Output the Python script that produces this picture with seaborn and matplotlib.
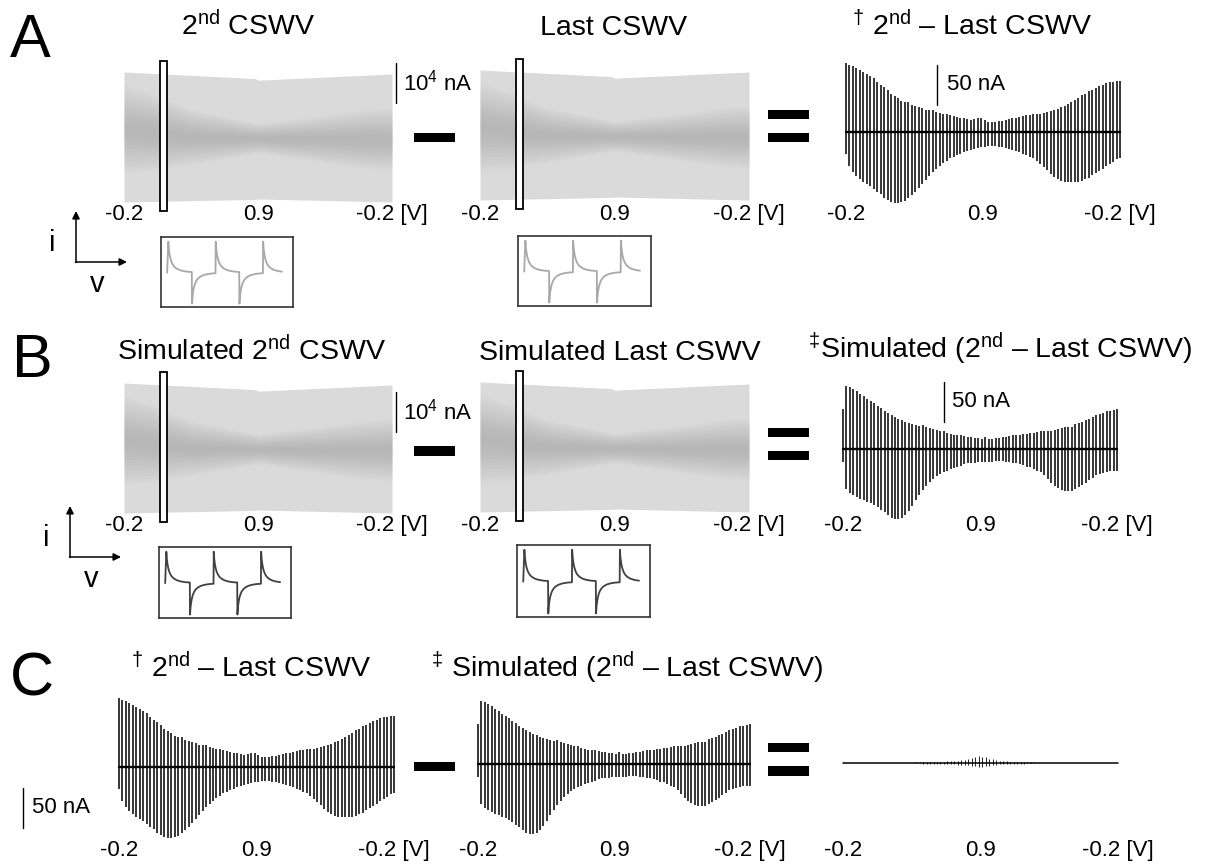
import numpy as np
import seaborn as sns
import matplotlib.pyplot as plt
from matplotlib.patches import Rectangle, FancyArrowPatch

# --- data -------------------------------------------------------------
TICK_LABELS = ['-0.2', '0.9', '-0.2 [V]']

# envelope of the raw CSWV traces (units of 1e4 nA, sweep fraction 0..1)
CSWV_T = [0.0, 0.49, 0.5, 1.0]
CSWV_TOP = [1.625, 1.46, 1.42, 1.575]
CSWV_BOT = [-1.625, -1.56, -1.55, -1.625]
BAND_T = [0.0, 0.1, 0.25, 0.5, 0.75, 0.9, 1.0]
BAND_MID = [0.2, 0.12, 0.0, -0.03, -0.05, -0.05, -0.05]
BAND_HALF = [0.45, 0.4, 0.28, 0.15, 0.24, 0.3, 0.32]
SELECT_T, SELECT_W = 0.134, 0.027

# one cycle of the zoomed CSWV waveform (normalised)
DECAY_T = [0, 0.02, 0.05, 0.08, 0.12, 0.17, 0.24, 0.33, 0.45, 0.6, 0.8, 0.99]
DECAY_I = [1.0, 0.78, 0.6, 0.48, 0.37, 0.28, 0.2, 0.14, 0.09, 0.055, 0.03, 0.02]
HALF_SIGNS = [1, -1, 1, -1, 1]
LAST_HALF_END = 0.89

# background subtracted spikes (nA), upper and lower peak per cycle
EXP_UP = [86, 84, 82, 80, 78, 75, 72, 70, 67, 63,
          59, 56, 52, 48, 45, 42, 39, 37, 37, 34,
          33, 31, 30, 28, 27, 27, 25, 24, 23, 22,
          21, 20, 19, 18, 17, 16, 15, 16, 17, 18,
          15, 13, 12, 12, 14, 14, 15, 16, 17, 18,
          19, 20, 21, 21, 22, 23, 23, 24, 25, 26,
          28, 29, 31, 33, 35, 37, 40, 43, 46, 48,
          51, 53, 55, 57, 59, 61, 62, 63, 64, 64]
EXP_LO = [28, 42, 50, 55, 59, 62, 65, 68, 71, 75,
          78, 82, 85, 87, 89, 89, 88, 86, 83, 79,
          75, 70, 65, 60, 55, 50, 46, 42, 39, 36,
          33, 31, 29, 27, 25, 24, 22, 21, 20, 19,
          19, 18, 18, 18, 19, 19, 20, 21, 22, 24,
          25, 27, 29, 31, 33, 36, 40, 44, 48, 52,
          56, 59, 61, 62, 63, 63, 63, 62, 61, 59,
          57, 54, 51, 49, 46, 43, 40, 37, 34, 32]
SIM_UP = [50, 79, 77, 75, 72, 69, 66, 63, 60, 57,
          54, 51, 48, 45, 42, 40, 38, 36, 34, 33,
          31, 30, 29, 30, 27, 26, 25, 24, 23, 22,
          20, 19, 18, 17, 17, 16, 15, 15, 14, 14,
          13, 15, 13, 13, 14, 14, 15, 15, 16, 17,
          17, 18, 19, 19, 20, 20, 21, 23, 22, 22,
          23, 24, 25, 26, 27, 28, 27, 31, 33, 34,
          36, 38, 40, 42, 44, 45, 47, 48, 49, 50]
SIM_LO = [16, 50, 55, 58, 60, 62, 64, 66, 68, 70,
          73, 76, 79, 83, 86, 88, 88, 86, 82, 77,
          71, 64, 57, 51, 46, 41, 37, 34, 31, 29,
          27, 25, 24, 22, 21, 19, 18, 17, 17, 16,
          16, 16, 16, 16, 15, 15, 15, 16, 16, 17,
          18, 19, 20, 22, 23, 25, 27, 29, 33, 38,
          43, 46, 49, 51, 52, 53, 52, 50, 48, 45,
          42, 39, 36, 33, 31, 30, 29, 28, 28, 27]
RES_UP = [0.6, 0.6, 0.6, 0.6, 0.6, 0.6, 0.6, 0.6, 0.6, 0.6,
          0.6, 0.6, 0.6, 0.6, 0.6, 0.6, 0.6, 0.6, 0.6, 0.6,
          0.6, 0.8, 0.8, 1.0, 1.0, 1.2, 1.2, 1.4, 1.5, 1.8,
          2.0, 2.2, 2.6, 3.0, 3.6, 4.2, 5.0, 6.0, 7.5, 8.5,
          8.0, 7.0, 5.5, 4.5, 3.5, 3.0, 2.4, 2.0, 1.6, 1.4,
          1.2, 1.0, 1.0, 0.8, 0.8, 0.7, 0.6, 0.6, 0.6, 0.6,
          0.6, 0.6, 0.6, 0.6, 0.6, 0.6, 0.6, 0.6, 0.6, 0.6,
          0.6, 0.6, 0.6, 0.6, 0.6, 0.6, 0.6, 0.6, 0.6, 0.6]
RES_LO = [0.6, 0.6, 0.6, 0.6, 0.6, 0.6, 0.6, 0.6, 0.6, 0.6,
          0.6, 0.6, 0.6, 0.6, 0.6, 0.6, 0.6, 0.6, 0.6, 0.6,
          0.6, 0.6, 0.6, 0.7, 0.7, 0.8, 0.8, 0.9, 1.0, 1.1,
          1.2, 1.4, 1.6, 1.9, 2.2, 2.6, 3.0, 3.6, 4.2, 4.8,
          4.5, 4.0, 3.2, 2.6, 2.0, 1.7, 1.4, 1.2, 1.0, 0.9,
          0.8, 0.7, 0.7, 0.6, 0.6, 0.6, 0.6, 0.6, 0.6, 0.6,
          0.6, 0.6, 0.6, 0.6, 0.6, 0.6, 0.6, 0.6, 0.6, 0.6,
          0.6, 0.6, 0.6, 0.6, 0.6, 0.6, 0.6, 0.6, 0.6, 0.6]
SCALE_NA = 50

# --- style ------------------------------------------------------------
sns.set_theme(style='white')
plt.rcParams['font.family'] = ['Liberation Sans', 'DejaVu Sans']
plt.rcParams['mathtext.fontset'] = 'custom'
plt.rcParams['mathtext.rm'] = 'Liberation Sans'
plt.rcParams['mathtext.it'] = 'Liberation Sans:italic'
plt.rcParams['text.color'] = 'black'
plt.rcParams['xtick.color'] = 'black'

W, H = 1208, 867
fig = plt.figure(figsize=(W / 100, H / 100), dpi=100)
fig.patch.set_facecolor('white')


def fx(x):
    return x / W


def fy(y):
    return 1 - y / H


def px_axes(x0, x1, top, bottom):
    ax = fig.add_axes([fx(x0), fy(bottom), (x1 - x0) / W, (bottom - top) / H])
    ax.set_facecolor('none')
    ax.grid(False)
    for s in ax.spines.values():
        s.set_visible(False)
    return ax


def trace_axes(x0, x1, base, label_y, ppu, xmax):
    bottom = label_y - 14
    top = base - 85
    ax = px_axes(x0, x1, top, bottom)
    ax.set_xlim(0, xmax)
    ax.set_ylim(-(bottom - base) / ppu, (base - top) / ppu)
    ax.set_yticks([])
    ax.set_xticks([0, xmax / 2, xmax], TICK_LABELS)
    ax.tick_params(axis='x', length=0, pad=1.5, labelsize=16)
    return ax


def gray_panel(x0, x1, base, label_y, scale_y=None):
    ax = trace_axes(x0, x1, base, label_y, 40, 1.0)
    ax.fill_between(CSWV_T, CSWV_BOT, CSWV_TOP, color='#dadada', lw=0)
    mid = np.array(BAND_MID)
    half = np.array(BAND_HALF)
    for k in np.linspace(2.4, 0.3, 12):
        ax.fill_between(BAND_T, mid - k * half, mid + k * half,
                        color='#8f8f8f', alpha=0.045, lw=0)
    ax.add_patch(Rectangle((SELECT_T, -1.85), SELECT_W, 3.75, fc='white',
                           ec='black', lw=1.3, clip_on=False, zorder=5))
    if scale_y is not None:
        ax.plot([1.015, 1.015], [scale_y, scale_y + 1], color='black',
                lw=1.0, clip_on=False)
        ax.text(1.041, scale_y + 0.5, '10$^{4}$ nA', fontsize=16,
                ha='left', va='center')
    return ax


def spike_panel(x0, x1, base, label_y, up, lo, lw=1.1, base_lw=1.7):
    ax = trace_axes(x0, x1, base, label_y, 0.8, len(up) - 1)
    idx = np.arange(len(up))
    ax.vlines(idx, -np.asarray(lo), np.asarray(up), color='black', lw=lw,
              clip_on=False)
    ax.axhline(0, color='black', lw=base_lw, clip_on=False)
    return ax


def scale_bar(ax, xb, y0, xt):
    ax.plot([xb, xb], [y0, y0 + SCALE_NA], color='black', lw=1.0, clip_on=False)
    ax.text(xt, y0 + SCALE_NA / 2, f'{SCALE_NA} nA', fontsize=16,
            ha='left', va='center', clip_on=False)


wave_x, wave_y = [-0.05], [0.0]
for k, s in enumerate(HALF_SIGNS):
    for t, v in zip(DECAY_T, DECAY_I):
        if k == len(HALF_SIGNS) - 1 and t > LAST_HALF_END:
            break
        wave_x.append(k + t)
        wave_y.append(s * v)


def inset(x0, x1, top, bottom, color):
    ax = fig.add_axes([fx(x0), fy(bottom), (x1 - x0) / W, (bottom - top) / H])
    ax.set_facecolor('white')
    for s in ax.spines.values():
        s.set_visible(True)
        s.set_color('#333333')
        s.set_linewidth(1.2)
    sns.lineplot(x=wave_x, y=wave_y, ax=ax, color=color, lw=1.3,
                 estimator=None, sort=False)
    ax.set_xlim(-0.31, 5.26)
    ax.set_ylim(-1.11, 1.15)
    ax.set_xticks([])
    ax.set_yticks([])
    ax.set_xlabel('')
    ax.set_ylabel('')


def px_rect(x0, y0, x1, y1):
    fig.add_artist(Rectangle((fx(x0), fy(y1)), (x1 - x0) / W, (y1 - y0) / H,
                             transform=fig.transFigure, fc='black', ec='none'))


def px_arrow(x0, y0, x1, y1):
    fig.add_artist(FancyArrowPatch((fx(x0), fy(y0)), (fx(x1), fy(y1)),
                                   transform=fig.transFigure, arrowstyle='-|>',
                                   mutation_scale=11, lw=1.1, color='black',
                                   shrinkA=0, shrinkB=0))


def iv_axes(cx, cy):
    px_arrow(cx, cy + 0.5, cx, cy - 51)
    px_arrow(cx - 0.5, cy, cx + 51, cy)
    fig.text(fx(cx - 24), fy(cy - 19), 'i', fontsize=21, ha='center', va='center')
    fig.text(fx(cx + 21), fy(cy + 22), 'v', fontsize=21, ha='center', va='center')


def title(cx, baseline, s):
    fig.text(fx(cx), fy(baseline), s, fontsize=20.5, ha='center', va='baseline')


# --- row A ------------------------------------------------------------
fig.text(fx(10), fy(57), 'A', fontsize=44, ha='left', va='baseline')
title(248, 35, '2$^{\\mathrm{nd}}$ CSWV')
title(614, 35, 'Last CSWV')
title(972, 35, '$^{\\mathrm{\u2020}}$ 2$^{\\mathrm{nd}}$ \u2013 Last CSWV')
gray_panel(124, 392, 137, 216, scale_y=0.85)
gray_panel(480, 749, 135, 216)
ax = spike_panel(846, 1120, 132, 216, EXP_UP, EXP_LO)
scale_bar(ax, 26.2, 33.75, 29.1)
px_rect(414, 133, 455, 142)
px_rect(768, 110, 809, 119)
px_rect(768, 133, 809, 142)
iv_axes(76, 262)
inset(161, 293, 237, 307, '#a8a8a8')
inset(518, 651, 236, 306, '#a8a8a8')

# --- row B ------------------------------------------------------------
fig.text(fx(12), fy(377), 'B', fontsize=44, ha='left', va='baseline')
title(252, 360, 'Simulated 2$^{\\mathrm{nd}}$ CSWV')
title(620, 360, 'Simulated Last CSWV')
title(1000, 358, '$^{\\mathrm{\u2021}}$Simulated (2$^{\\mathrm{nd}}$ \u2013 Last CSWV)')
gray_panel(124, 392, 448, 527, scale_y=0.4)
gray_panel(480, 749, 447, 527)
ax = spike_panel(843, 1117, 449, 527, SIM_UP, SIM_LO)
scale_bar(ax, 29.1, 33.75, 31.4)
px_rect(414, 446, 455, 456)
px_rect(768, 428, 809, 437)
px_rect(768, 451, 809, 460)
iv_axes(70, 557)
inset(159, 291, 547, 618, '#404040')
inset(517, 650, 545, 617, '#404040')

# --- row C ------------------------------------------------------------
fig.text(fx(10), fy(695), 'C', fontsize=44, ha='left', va='baseline')
title(251, 677, '$^{\\mathrm{\u2020}}$ 2$^{\\mathrm{nd}}$ \u2013 Last CSWV')
title(627, 677, '$^{\\mathrm{\u2021}}$ Simulated (2$^{\\mathrm{nd}}$ \u2013 Last CSWV)')
ax = spike_panel(119, 394, 767, 852, EXP_UP, EXP_LO)
scale_bar(ax, -27.6, -76, -25.0)
spike_panel(478, 750, 764, 852, SIM_UP, SIM_LO)
spike_panel(843, 1118, 763, 852, RES_UP, RES_LO, lw=0.6, base_lw=1.1)
px_rect(414, 762, 455, 771)
px_rect(768, 743, 809, 752)
px_rect(768, 766, 809, 776)

fig.savefig('out.png', dpi=100, facecolor='white')
